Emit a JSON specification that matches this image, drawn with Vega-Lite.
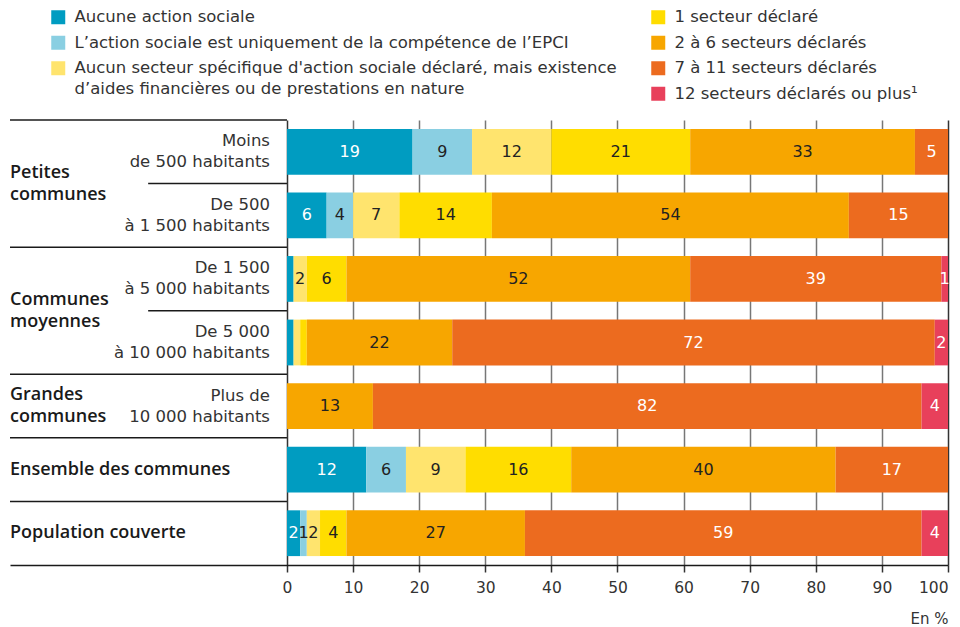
{
  "$schema": "https://vega.github.io/schema/vega-lite/v6.json",
  "width": 938,
  "height": 445,
  "autosize": {"type": "none"},
  "padding": {"left": 10, "top": 120, "right": 12, "bottom": 62},
  "config": {
    "font": "DejaVu Sans",
    "view": {"stroke": null},
    "legend": {
      "orient": "none",
      "title": null,
      "symbolType": "square",
      "symbolSize": 196,
      "symbolStrokeWidth": 0,
      "symbolOpacity": 1,
      "labelFont": "DejaVu Sans",
      "labelFontSize": 16.5,
      "labelColor": "#333333",
      "labelLimit": 700,
      "labelOffset": 8,
      "rowPadding": 8.5,
      "padding": 0
    }
  },
  "datasets": {
    "barres": [
      {"row": "Moins de 500 habitants", "cat": "Aucune action sociale", "rang": 1, "valeur": 19, "etiquette": "19"},
      {"row": "Moins de 500 habitants", "cat": "L’action sociale est uniquement de la compétence de l’EPCI", "rang": 2, "valeur": 9, "etiquette": "9"},
      {"row": "Moins de 500 habitants", "cat": "Aucun secteur spécifique d'action sociale déclaré, mais existence d’aides financières ou de prestations en nature", "rang": 3, "valeur": 12, "etiquette": "12"},
      {"row": "Moins de 500 habitants", "cat": "1 secteur déclaré", "rang": 4, "valeur": 21, "etiquette": "21"},
      {"row": "Moins de 500 habitants", "cat": "2 à 6 secteurs déclarés", "rang": 5, "valeur": 34, "etiquette": "33"},
      {"row": "Moins de 500 habitants", "cat": "7 à 11 secteurs déclarés", "rang": 6, "valeur": 5, "etiquette": "5"},

      {"row": "De 500 à 1 500 habitants", "cat": "Aucune action sociale", "rang": 1, "valeur": 6, "etiquette": "6"},
      {"row": "De 500 à 1 500 habitants", "cat": "L’action sociale est uniquement de la compétence de l’EPCI", "rang": 2, "valeur": 4, "etiquette": "4"},
      {"row": "De 500 à 1 500 habitants", "cat": "Aucun secteur spécifique d'action sociale déclaré, mais existence d’aides financières ou de prestations en nature", "rang": 3, "valeur": 7, "etiquette": "7"},
      {"row": "De 500 à 1 500 habitants", "cat": "1 secteur déclaré", "rang": 4, "valeur": 14, "etiquette": "14"},
      {"row": "De 500 à 1 500 habitants", "cat": "2 à 6 secteurs déclarés", "rang": 5, "valeur": 54, "etiquette": "54"},
      {"row": "De 500 à 1 500 habitants", "cat": "7 à 11 secteurs déclarés", "rang": 6, "valeur": 15, "etiquette": "15"},

      {"row": "De 1 500 à 5 000 habitants", "cat": "Aucune action sociale", "rang": 1, "valeur": 1, "etiquette": null},
      {"row": "De 1 500 à 5 000 habitants", "cat": "Aucun secteur spécifique d'action sociale déclaré, mais existence d’aides financières ou de prestations en nature", "rang": 3, "valeur": 2, "etiquette": "2"},
      {"row": "De 1 500 à 5 000 habitants", "cat": "1 secteur déclaré", "rang": 4, "valeur": 6, "etiquette": "6"},
      {"row": "De 1 500 à 5 000 habitants", "cat": "2 à 6 secteurs déclarés", "rang": 5, "valeur": 52, "etiquette": "52"},
      {"row": "De 1 500 à 5 000 habitants", "cat": "7 à 11 secteurs déclarés", "rang": 6, "valeur": 38, "etiquette": "39"},
      {"row": "De 1 500 à 5 000 habitants", "cat": "12 secteurs déclarés ou plus¹", "rang": 7, "valeur": 1, "etiquette": "1"},

      {"row": "De 5 000 à 10 000 habitants", "cat": "Aucune action sociale", "rang": 1, "valeur": 1, "etiquette": null},
      {"row": "De 5 000 à 10 000 habitants", "cat": "Aucun secteur spécifique d'action sociale déclaré, mais existence d’aides financières ou de prestations en nature", "rang": 3, "valeur": 1, "etiquette": null},
      {"row": "De 5 000 à 10 000 habitants", "cat": "1 secteur déclaré", "rang": 4, "valeur": 1, "etiquette": null},
      {"row": "De 5 000 à 10 000 habitants", "cat": "2 à 6 secteurs déclarés", "rang": 5, "valeur": 22, "etiquette": "22"},
      {"row": "De 5 000 à 10 000 habitants", "cat": "7 à 11 secteurs déclarés", "rang": 6, "valeur": 73, "etiquette": "72"},
      {"row": "De 5 000 à 10 000 habitants", "cat": "12 secteurs déclarés ou plus¹", "rang": 7, "valeur": 2, "etiquette": "2"},

      {"row": "Plus de 10 000 habitants", "cat": "2 à 6 secteurs déclarés", "rang": 5, "valeur": 13, "etiquette": "13"},
      {"row": "Plus de 10 000 habitants", "cat": "7 à 11 secteurs déclarés", "rang": 6, "valeur": 83, "etiquette": "82"},
      {"row": "Plus de 10 000 habitants", "cat": "12 secteurs déclarés ou plus¹", "rang": 7, "valeur": 4, "etiquette": "4"},

      {"row": "Ensemble des communes", "cat": "Aucune action sociale", "rang": 1, "valeur": 12, "etiquette": "12"},
      {"row": "Ensemble des communes", "cat": "L’action sociale est uniquement de la compétence de l’EPCI", "rang": 2, "valeur": 6, "etiquette": "6"},
      {"row": "Ensemble des communes", "cat": "Aucun secteur spécifique d'action sociale déclaré, mais existence d’aides financières ou de prestations en nature", "rang": 3, "valeur": 9, "etiquette": "9"},
      {"row": "Ensemble des communes", "cat": "1 secteur déclaré", "rang": 4, "valeur": 16, "etiquette": "16"},
      {"row": "Ensemble des communes", "cat": "2 à 6 secteurs déclarés", "rang": 5, "valeur": 40, "etiquette": "40"},
      {"row": "Ensemble des communes", "cat": "7 à 11 secteurs déclarés", "rang": 6, "valeur": 17, "etiquette": "17"},

      {"row": "Population couverte", "cat": "Aucune action sociale", "rang": 1, "valeur": 2, "etiquette": "2"},
      {"row": "Population couverte", "cat": "L’action sociale est uniquement de la compétence de l’EPCI", "rang": 2, "valeur": 1, "etiquette": "1"},
      {"row": "Population couverte", "cat": "Aucun secteur spécifique d'action sociale déclaré, mais existence d’aides financières ou de prestations en nature", "rang": 3, "valeur": 2, "etiquette": "2"},
      {"row": "Population couverte", "cat": "1 secteur déclaré", "rang": 4, "valeur": 4, "etiquette": "4"},
      {"row": "Population couverte", "cat": "2 à 6 secteurs déclarés", "rang": 5, "valeur": 27, "etiquette": "27"},
      {"row": "Population couverte", "cat": "7 à 11 secteurs déclarés", "rang": 6, "valeur": 60, "etiquette": "59"},
      {"row": "Population couverte", "cat": "12 secteurs déclarés ou plus¹", "rang": 7, "valeur": 4, "etiquette": "4"}
    ],
    "lignes": [
      {"row": "Moins de 500 habitants", "groupe": "Petites\ncommunes", "libelle": "Moins\nde 500 habitants"},
      {"row": "De 500 à 1 500 habitants", "groupe": "Petites\ncommunes", "libelle": "De 500\nà 1 500 habitants"},
      {"row": "De 1 500 à 5 000 habitants", "groupe": "Communes\nmoyennes", "libelle": "De 1 500\nà 5 000 habitants"},
      {"row": "De 5 000 à 10 000 habitants", "groupe": "Communes\nmoyennes", "libelle": "De 5 000\nà 10 000 habitants"},
      {"row": "Plus de 10 000 habitants", "groupe": "Grandes\ncommunes", "libelle": "Plus de\n10 000 habitants"},
      {"row": "Ensemble des communes", "groupe": "Ensemble des communes", "libelle": ""},
      {"row": "Population couverte", "groupe": "Population couverte", "libelle": ""}
    ]
  },
  "layer": [
    {
      "data": {"name": "barres"},
      "transform": [
        {"stack": "valeur", "groupby": ["row"], "sort": [{"field": "rang", "order": "ascending"}], "as": ["x0", "x1"]},
        {"calculate": "(datum.x0 + datum.x1) / 2", "as": "milieu"}
      ],
      "resolve": {"scale": {"color": "independent"}},
      "layer": [
        {
          "transform": [{"filter": "datum.rang <= 3"}],
          "mark": {"type": "bar", "height": {"band": 0.72}},
          "encoding": {
            "y": {"field": "row", "type": "nominal", "axis": null,
              "scale": {"domain": ["Moins de 500 habitants", "De 500 à 1 500 habitants", "De 1 500 à 5 000 habitants", "De 5 000 à 10 000 habitants", "Plus de 10 000 habitants", "Ensemble des communes", "Population couverte"], "paddingInner": 0, "paddingOuter": 0}},
            "x": {"field": "x0", "type": "quantitative",
              "scale": {"domain": [-41.9, 100], "nice": false, "zero": false},
              "axis": {
                "values": [0, 10, 20, 30, 40, 50, 60, 70, 80, 90, 100],
                "title": "En %",
                "titleAnchor": "end",
                "titleFont": "DejaVu Sans",
                "titleFontWeight": "normal",
                "titleFontSize": 15,
                "titleColor": "#333333",
                "titlePadding": 16,
                "grid": true,
                "gridColor": {"condition": {"test": "datum.value === 0 || datum.value === 100", "value": "#333333"}, "value": "#777777"},
                "gridWidth": 1.5,
                "domainColor": "#1a1a1a",
                "domainWidth": 1.5,
                "tickColor": "#333333",
                "tickSize": 7,
                "tickWidth": 1.5,
                "labelFont": "DejaVu Sans",
                "labelFontSize": 15.5,
                "labelColor": "#333333",
                "labelPadding": 8
              }},
            "x2": {"field": "x1"},
            "color": {"field": "cat", "type": "nominal",
              "scale": {"domain": ["Aucune action sociale", "L’action sociale est uniquement de la compétence de l’EPCI", "Aucun secteur spécifique d'action sociale déclaré, mais existence d’aides financières ou de prestations en nature"],
                "range": ["#009CC1", "#8ACFE2", "#FFE46E"]},
              "legend": {"legendX": 40, "legendY": -111,
                "labelExpr": "indexof(datum.label, 'mais existence') > 0 ? [\"Aucun secteur spécifique d'action sociale déclaré, mais existence\", 'd’aides financières ou de prestations en nature'] : datum.label",
                "encode": {"labels": {"update": {"lineHeight": {"value": 21}}}}}}
          }
        },
        {
          "transform": [{"filter": "datum.rang > 3"}],
          "mark": {"type": "bar", "height": {"band": 0.72}},
          "encoding": {
            "y": {"field": "row", "type": "nominal", "axis": null,
              "scale": {"domain": ["Moins de 500 habitants", "De 500 à 1 500 habitants", "De 1 500 à 5 000 habitants", "De 5 000 à 10 000 habitants", "Plus de 10 000 habitants", "Ensemble des communes", "Population couverte"], "paddingInner": 0, "paddingOuter": 0}},
            "x": {"field": "x0", "type": "quantitative", "scale": {"domain": [-41.9, 100], "nice": false, "zero": false}},
            "x2": {"field": "x1"},
            "color": {"field": "cat", "type": "nominal",
              "scale": {"domain": ["1 secteur déclaré", "2 à 6 secteurs déclarés", "7 à 11 secteurs déclarés", "12 secteurs déclarés ou plus¹"],
                "range": ["#FFDD00", "#F7A600", "#EC6B1F", "#E8405B"]},
              "legend": {"legendX": 640, "legendY": -111}}
          }
        },
        {
          "transform": [{"filter": "datum.etiquette != null"}],
          "mark": {"type": "text", "fontSize": 16, "baseline": "middle", "align": "center"},
          "encoding": {
            "y": {"field": "row", "type": "nominal", "axis": null,
              "scale": {"domain": ["Moins de 500 habitants", "De 500 à 1 500 habitants", "De 1 500 à 5 000 habitants", "De 5 000 à 10 000 habitants", "Plus de 10 000 habitants", "Ensemble des communes", "Population couverte"], "paddingInner": 0, "paddingOuter": 0}},
            "x": {"field": "milieu", "type": "quantitative", "scale": {"domain": [-41.9, 100], "nice": false, "zero": false}},
            "text": {"field": "etiquette"},
            "color": {"condition": {"test": "datum.rang === 1 || datum.rang >= 6", "value": "#ffffff"}, "value": "#222222"}
          }
        }
      ]
    },
    {
      "data": {"name": "lignes"},
      "transform": [
        {"window": [{"op": "row_number", "as": "rn"}, {"op": "count", "as": "n"}], "groupby": ["groupe"], "frame": [null, null]}
      ],
      "layer": [
        {
          "transform": [{"filter": "datum.rn === 1"}],
          "mark": {"type": "rule", "color": "#1a1a1a", "strokeWidth": 1.5},
          "encoding": {
            "y": {"field": "row", "type": "nominal", "bandPosition": 0, "axis": null,
              "scale": {"domain": ["Moins de 500 habitants", "De 500 à 1 500 habitants", "De 1 500 à 5 000 habitants", "De 5 000 à 10 000 habitants", "Plus de 10 000 habitants", "Ensemble des communes", "Population couverte"], "paddingInner": 0, "paddingOuter": 0}},
            "x": {"datum": -41.9, "type": "quantitative", "scale": {"domain": [-41.9, 100], "nice": false, "zero": false}},
            "x2": {"datum": 0}
          }
        },
        {
          "transform": [{"filter": "datum.rn === 2"}],
          "mark": {"type": "rule", "color": "#1a1a1a", "strokeWidth": 1.5},
          "encoding": {
            "y": {"field": "row", "type": "nominal", "bandPosition": 0, "axis": null,
              "scale": {"domain": ["Moins de 500 habitants", "De 500 à 1 500 habitants", "De 1 500 à 5 000 habitants", "De 5 000 à 10 000 habitants", "Plus de 10 000 habitants", "Ensemble des communes", "Population couverte"], "paddingInner": 0, "paddingOuter": 0}},
            "x": {"datum": -21, "type": "quantitative", "scale": {"domain": [-41.9, 100], "nice": false, "zero": false}},
            "x2": {"datum": 0}
          }
        },
        {
          "transform": [{"filter": "datum.rn === 1 && datum.n === 2"}],
          "mark": {"type": "text", "font": "Open Sans", "align": "left", "baseline": "middle", "fontSize": 18, "fontWeight": 600, "lineBreak": "\n", "lineHeight": 22, "color": "#1a1a1a", "dy": -11},
          "encoding": {
            "y": {"field": "row", "type": "nominal", "bandPosition": 1, "axis": null,
              "scale": {"domain": ["Moins de 500 habitants", "De 500 à 1 500 habitants", "De 1 500 à 5 000 habitants", "De 5 000 à 10 000 habitants", "Plus de 10 000 habitants", "Ensemble des communes", "Population couverte"], "paddingInner": 0, "paddingOuter": 0}},
            "x": {"datum": -41.9, "type": "quantitative", "scale": {"domain": [-41.9, 100], "nice": false, "zero": false}},
            "text": {"field": "groupe"}
          }
        },
        {
          "transform": [{"filter": "datum.rn === 1 && datum.n === 1 && indexof(datum.groupe, '\\n') >= 0"}],
          "mark": {"type": "text", "font": "Open Sans", "align": "left", "baseline": "middle", "fontSize": 18, "fontWeight": 600, "lineBreak": "\n", "lineHeight": 22, "color": "#1a1a1a", "dy": -11},
          "encoding": {
            "y": {"field": "row", "type": "nominal", "axis": null,
              "scale": {"domain": ["Moins de 500 habitants", "De 500 à 1 500 habitants", "De 1 500 à 5 000 habitants", "De 5 000 à 10 000 habitants", "Plus de 10 000 habitants", "Ensemble des communes", "Population couverte"], "paddingInner": 0, "paddingOuter": 0}},
            "x": {"datum": -41.9, "type": "quantitative", "scale": {"domain": [-41.9, 100], "nice": false, "zero": false}},
            "text": {"field": "groupe"}
          }
        },
        {
          "transform": [{"filter": "datum.rn === 1 && datum.n === 1 && indexof(datum.groupe, '\\n') < 0"}],
          "mark": {"type": "text", "font": "Open Sans", "align": "left", "baseline": "middle", "fontSize": 18, "fontWeight": 600, "color": "#1a1a1a"},
          "encoding": {
            "y": {"field": "row", "type": "nominal", "axis": null,
              "scale": {"domain": ["Moins de 500 habitants", "De 500 à 1 500 habitants", "De 1 500 à 5 000 habitants", "De 5 000 à 10 000 habitants", "Plus de 10 000 habitants", "Ensemble des communes", "Population couverte"], "paddingInner": 0, "paddingOuter": 0}},
            "x": {"datum": -41.9, "type": "quantitative", "scale": {"domain": [-41.9, 100], "nice": false, "zero": false}},
            "text": {"field": "groupe"}
          }
        },
        {
          "transform": [{"filter": "datum.libelle !== ''"}],
          "mark": {"type": "text", "align": "right", "baseline": "middle", "fontSize": 16.5, "lineBreak": "\n", "lineHeight": 21, "color": "#333333", "dx": -17, "dy": -10.5},
          "encoding": {
            "y": {"field": "row", "type": "nominal", "axis": null,
              "scale": {"domain": ["Moins de 500 habitants", "De 500 à 1 500 habitants", "De 1 500 à 5 000 habitants", "De 5 000 à 10 000 habitants", "Plus de 10 000 habitants", "Ensemble des communes", "Population couverte"], "paddingInner": 0, "paddingOuter": 0}},
            "x": {"datum": 0, "type": "quantitative", "scale": {"domain": [-41.9, 100], "nice": false, "zero": false}},
            "text": {"field": "libelle"}
          }
        }
      ]
    }
  ]
}
